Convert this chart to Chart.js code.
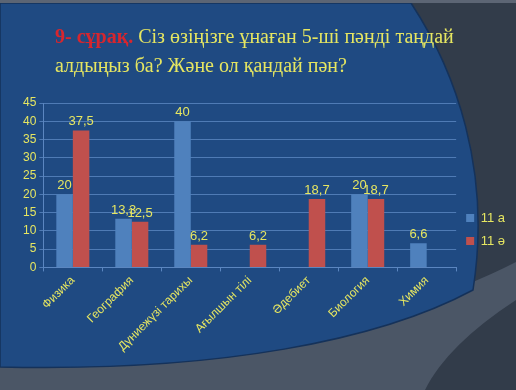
<!DOCTYPE html>
<html lang="kk">
<head>
<meta charset="UTF-8">
<title>9- сұрақ</title>
<script src="https://cdn.jsdelivr.net/npm/chart.js"></script>
<style>
  html, body { margin: 0; padding: 0; background: #323c4a; }
  .slide { position: relative; width: 516px; height: 390px; overflow: hidden; }
  #chart { position: absolute; left: 0; top: 0; }
  .title {
    position: absolute; left: 55px; top: 22px; width: 430px;
    font-family: "Liberation Serif", "DejaVu Serif", serif;
    font-size: 20px; line-height: 29px; color: #e6e661;
  }
  .title b { color: #d6262e; }
</style>
</head>
<body>
<div class="slide">
  <canvas id="chart" width="516" height="390"></canvas>
  <div class="title"><b>9- сұрақ.</b> Сіз өзіңізге ұнаған 5-ші пәнді таңдай алдыңыз ба? Және ол қандай пән?</div>
</div>
<script>
const categories = ['Физика', 'География', 'Дүниежүзі тарихы', 'Ағылшын тілі', 'Әдебиет', 'Биология', 'Химия'];
const class11a = [20, 13.3, 40, null, null, 20, 6.6];
const class11e = [37.5, 12.5, 6.2, 6.2, 18.7, 18.7, null];
const yTicks = [0, 5, 10, 15, 20, 25, 30, 35, 40, 45];

const textColor = '#e6e661';

// slide background: blue panel with grey curves
const slideBg = {
  id: 'slideBg',
  beforeDraw(chart) {
    const c = chart.ctx;
    c.save();
    c.fillStyle = '#323c4a';
    c.fillRect(0, 0, 516, 390);
    // lighter grey band at the bottom
    c.fillStyle = '#4b5666';
    c.beginPath();
    c.moveTo(0, 366);
    c.bezierCurveTo(200, 372, 380, 330, 516, 262);
    c.lineTo(516, 300);
    c.bezierCurveTo(470, 330, 440, 360, 425, 390);
    c.lineTo(0, 390);
    c.closePath();
    c.fill();
    // blue panel
    c.fillStyle = '#1f4a82';
    c.beginPath();
    c.moveTo(0, 3);
    c.lineTo(411, 3);
    c.bezierCurveTo(455, 70, 492, 170, 473, 290);
    c.bezierCurveTo(380, 340, 220, 372, 0, 367);
    c.closePath();
    c.fill();
    c.strokeStyle = '#15325a';
    c.lineWidth = 1.5;
    c.stroke();
    // top border
    c.fillStyle = '#5c6574';
    c.fillRect(0, 0, 516, 3);
    c.restore();
  }
};

// value labels above bars
const valueLabels = {
  id: 'valueLabels',
  afterDatasetsDraw(chart) {
    const c = chart.ctx;
    c.save();
    c.font = '13px "Liberation Sans", Arial, sans-serif';
    c.fillStyle = textColor;
    c.textAlign = 'center';
    c.textBaseline = 'bottom';
    chart.data.datasets.forEach((ds, i) => {
      chart.getDatasetMeta(i).data.forEach((bar, j) => {
        const v = ds.data[j];
        if (v == null) return;
        c.fillText(String(v).replace('.', ','), bar.x, bar.y - 2);
      });
    });
    c.restore();
  }
};

new Chart(document.getElementById('chart'), {
  type: 'bar',
  data: {
    labels: categories,
    datasets: [
      { label: '11 а', data: class11a, backgroundColor: '#4f81bd' },
      { label: '11 ә', data: class11e, backgroundColor: '#c0504d' }
    ]
  },
  options: {
    responsive: false,
    animation: false,
    categoryPercentage: 0.56,
    barPercentage: 1,
    layout: { padding: { top: 103, left: 20, right: 1, bottom: 34 } },
    plugins: {
      legend: {
        position: 'right',
        labels: {
          boxWidth: 8, boxHeight: 8, padding: 10,
          color: textColor,
          font: { size: 13, family: '"Liberation Sans", Arial, sans-serif' }
        }
      },
      tooltip: { enabled: false }
    },
    scales: {
      x: {
        grid: { display: true, drawOnChartArea: false, color: '#5b86c0', tickLength: 4 },
        border: { color: '#5b86c0' },
        ticks: {
          color: textColor, minRotation: 45, maxRotation: 45, padding: 2,
          font: { size: 12, family: '"Liberation Sans", Arial, sans-serif' }
        }
      },
      y: {
        min: 0, max: 45,
        afterBuildTicks(axis) { axis.ticks = yTicks.map(v => ({ value: v })); },
        grid: { color: '#4f7bb5', tickLength: 4 },
        border: { color: '#5b86c0' },
        ticks: {
          color: textColor, padding: 3,
          font: { size: 12, family: '"Liberation Sans", Arial, sans-serif' }
        }
      }
    }
  },
  plugins: [slideBg, valueLabels]
});
</script>
</body>
</html>
